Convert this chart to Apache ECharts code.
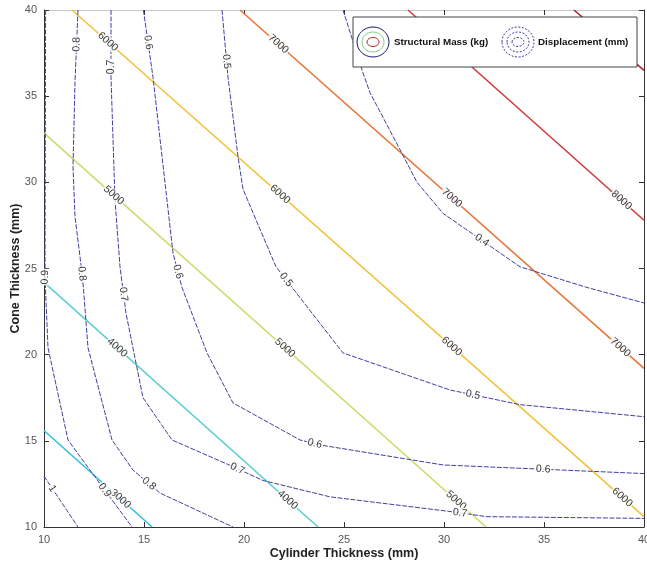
<!DOCTYPE html>
<html>
<head>
<meta charset="utf-8">
<script src="https://cdn.jsdelivr.net/npm/echarts@6/dist/echarts.min.js"></script>
<style>
  html, body { margin: 0; padding: 0; background: #fff; }
  #chart { width: 647px; height: 564px; }
</style>
</head>
<body>
<div id="chart"></div>
<script>
// axis range (mm)
const axisMin = 10, axisMax = 40, axisStep = 5;

// structural mass contours (kg): straight lines, end points
const massLevels = ['3000', '4000', '5000', '6000', '7000', '8000', '9000'];
const massColors = ['#36bde0', '#5ccfcf', '#c9dc6c', '#f3c13c', '#e6763a', '#cf3b3b', '#a8282e'];
const massLines = [
    [[10, 15.6], [15.4, 10]],
    [[10, 24.2], [23.7, 10]],
    [[10, 32.85], [32.1, 10]],
    [[11.4, 40], [40, 10.6]],
    [[19.8, 40], [40, 19.2]],
    [[28.2, 40], [40, 27.8]],
    [[36.5, 40], [40, 36.5]]
];
// where the clabel text sits on each mass line
const massLabelPts = [
    [[13.8, 11.6]],
    [[13.65, 20.4], [22.2, 11.6]],
    [[13.45, 29.2], [22.05, 20.4], [30.65, 11.6]],
    [[13.15, 38.1], [21.8, 29.3], [30.4, 20.5], [38.9, 11.7]],
    [[21.7, 38.0], [30.4, 29.1], [38.8, 20.4]],
    [[38.9, 29.0]],
    []
];

// displacement contours (mm)
const dispLevels = ['0.4', '0.5', '0.6', '0.7', '0.8', '0.9', '1'];
const dispLines = [
    [[24.95, 40], [25.95, 36.35], [26.3, 35.2], [27.8, 31.9], [28.65, 30.0], [29.95, 28.2], [33.8, 25.1], [37.15, 23.9], [40, 23.0]],
    [[18.9, 40], [19.2, 36.1], [19.7, 31.5], [19.95, 29.6], [21.6, 25.1], [24.95, 20.1], [30.3, 17.95], [33.8, 17.1], [40, 16.4]],
    [[14.97, 40], [15.45, 36.1], [16.45, 25.9], [16.9, 23.9], [18.15, 20.1], [19.45, 17.2], [22.8, 15.05], [23.8, 14.76], [29.95, 13.6], [40, 13.1]],
    [[13.35, 40], [13.35, 36.1], [13.55, 29.0], [13.8, 25.1], [14.1, 22.4], [14.95, 17.5], [16.4, 15.05], [19.45, 13.5], [20.95, 12.7], [24.3, 11.75], [30.3, 10.9], [32.15, 10.6], [40, 10.5]],
    [[11.7, 40], [11.55, 35.8], [11.45, 30.9], [11.55, 28], [11.8, 25.7], [11.97, 23.9], [12.2, 20.4], [13.4, 15.05], [14.45, 13.3], [15.8, 11.97], [19.45, 10]],
    [[10.08, 40], [10.05, 24.5], [10.2, 20.4], [11.2, 15.05], [12.3, 13.3], [14.4, 10]],
    [[10, 12.95], [11.7, 10]]
];
const dispLabelPts = [
    [[31.9, 26.65]],
    [[19.05, 37.0], [22.05, 24.3], [31.45, 17.7]],
    [[15.1, 38.1], [16.65, 24.8], [23.55, 14.9], [34.95, 13.2]],
    [[13.35, 36.7], [13.95, 23.5], [19.55, 13.1], [30.8, 10.8]],
    [[11.65, 38.0], [11.9, 24.7], [15.2, 12.45]],
    [[10.05, 24.5], [13.05, 12.15]],
    [[10.45, 12.25]]
];
const dispColor = '#4040a0';
const font = 'Liberation Sans, Arial, sans-serif';

const chart = echarts.init(document.getElementById('chart'));

// contour lines
const series = [];
massLines.forEach((pts, i) => series.push({
    type: 'line', data: pts, showSymbol: false, silent: true, z: 2,
    lineStyle: { color: massColors[i], width: 1.6 }
}));
dispLines.forEach(pts => series.push({
    type: 'line', data: pts, showSymbol: false, silent: true, z: 2,
    lineStyle: { color: dispColor, width: 1, type: [5, 1.5] }
}));

function boxAxis(pos, show) {
    return {
        type: 'value', position: pos, min: axisMin, max: axisMax, interval: axisStep,
        axisLine: { show: true, lineStyle: { color: pos === 'top' ? '#c8c8c8' : '#333', width: 1 } },
        axisTick: { show: true, inside: true, length: 5, lineStyle: { color: '#333' } },
        axisLabel: { show: show, color: '#555', fontSize: 11, fontFamily: font, margin: 7 },
        splitLine: { show: false }
    };
}

const nameStyle = { color: '#222', fontSize: 12.5, fontWeight: 'bold', fontFamily: font };
const xMain = Object.assign(boxAxis('bottom', true), {
    name: 'Cylinder Thickness (mm)', nameLocation: 'middle', nameGap: 20, nameMoveOverlap: false,
    nameTextStyle: nameStyle
});
const yMain = Object.assign(boxAxis('left', true), {
    name: 'Cone Thickness (mm)', nameLocation: 'middle', nameGap: 22, nameMoveOverlap: false,
    nameTextStyle: nameStyle
});

// legend drawn by hand: concentric contour icons
const lgX = 353, lgY = 17, lgW = 284, lgH = 50, cy = lgY + 25;
function rings(cx, colors, dashed) {
    const r = [[16, 15], [11, 10], [6, 4.5]];
    return r.map((s, i) => ({
        type: 'ellipse', shape: { cx: cx, cy: cy, rx: s[0], ry: s[1] },
        style: { fill: null, stroke: colors[i], lineWidth: 1, lineDash: dashed ? [2, 1.5] : null }
    }));
}
const legendGraphic = [
    { type: 'rect', shape: { x: lgX, y: lgY, width: lgW, height: lgH },
      style: { fill: '#fff', stroke: '#444', lineWidth: 1 } },
    ...rings(lgX + 20, ['#1a1a6e', '#7fd08a', '#b02020'], false),
    { type: 'text', x: lgX + 41, y: cy, style: { text: 'Structural Mass (kg)', font: 'bold 9.8px ' + font, fill: '#111', verticalAlign: 'middle' } },
    ...rings(lgX + 165, [dispColor, dispColor, dispColor], true),
    { type: 'text', x: lgX + 185, y: cy, style: { text: 'Displacement (mm)', font: 'bold 9.8px ' + font, fill: '#111', verticalAlign: 'middle' } }
];

chart.setOption({
    animation: false,
    backgroundColor: '#fff',
    grid: { left: 44, right: 3, top: 10, bottom: 37, containLabel: false, outerBoundsMode: 'none' },
    xAxis: [xMain, boxAxis('top', false)],
    yAxis: [yMain, boxAxis('right', false)],
    graphic: { elements: legendGraphic.map(e => Object.assign({ z: 100 }, e)) },
    series: series
});

// put each label on its line, turned along the local segment
function labelItems(lines, labelPts, levels) {
    const items = [];
    labelPts.forEach((pts, i) => {
        const poly = lines[i].map(p => chart.convertToPixel({ gridIndex: 0 }, p));
        pts.forEach(p => {
            const q = chart.convertToPixel({ gridIndex: 0 }, p);
            let best = null;
            for (let k = 0; k < poly.length - 1; k++) {
                const a = poly[k], b = poly[k + 1];
                const dx = b[0] - a[0], dy = b[1] - a[1];
                let t = ((q[0] - a[0]) * dx + (q[1] - a[1]) * dy) / (dx * dx + dy * dy);
                t = Math.max(0, Math.min(1, t));
                const px = a[0] + t * dx, py = a[1] + t * dy;
                const d = (px - q[0]) ** 2 + (py - q[1]) ** 2;
                if (!best || d < best.d) best = { d, px, py, dx, dy };
            }
            let ang = -Math.atan2(best.dy, best.dx) * 180 / Math.PI;
            if (ang > 90) ang -= 180;
            if (ang <= -90) ang += 180;
            items.push({
                value: chart.convertFromPixel({ gridIndex: 0 }, [best.px, best.py]),
                name: levels[i],
                label: { rotate: ang }
            });
        });
    });
    return items;
}

const labels = labelItems(massLines, massLabelPts, massLevels)
    .concat(labelItems(dispLines, dispLabelPts, dispLevels));

chart.setOption({
    series: series.concat([{
        type: 'scatter', data: labels, symbol: 'circle', symbolSize: 1, silent: true, z: 5, clip: false,
        itemStyle: { color: 'rgba(0,0,0,0)' },
        label: {
            show: true, position: 'inside', formatter: '{b}',
            fontSize: 10.5, fontFamily: font, color: '#000',
            backgroundColor: '#fff', padding: [0, 1]
        }
    }])
});
</script>
</body>
</html>
